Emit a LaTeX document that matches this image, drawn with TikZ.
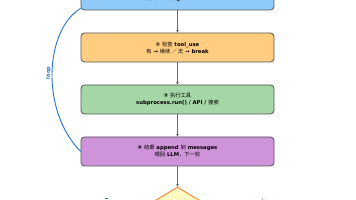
\documentclass[tikz,border=0pt]{standalone}
\usepackage{fontspec}
\setmainfont{DejaVu Sans}
\newfontfamily\cjk{Noto Sans CJK SC}
\usetikzlibrary{arrows.meta,shapes.geometric}
\definecolor{bxblue}{HTML}{90CAF9}
\definecolor{bxorange}{HTML}{FFCC80}
\definecolor{bxgreen}{HTML}{A5D6A7}
\definecolor{bxpurple}{HTML}{CE93D8}
\definecolor{loopblue}{HTML}{1E74D0}
\definecolor{edgegray}{HTML}{555555}
\definecolor{diafill}{HTML}{FFF9C4}
\definecolor{diaedge}{HTML}{F5862A}
\definecolor{endpink}{HTML}{E89AB8}
\newcommand{\zh}[1]{{\cjk\mdseries #1}}
\tikzset{
  stepbox/.style={draw=edgegray, line width=0.8pt, rounded corners=3.5pt,
    minimum width=193pt, minimum height=29pt, inner sep=0pt,
    align=center, font=\fontsize{5.3pt}{7pt}\selectfont\bfseries},
  flow/.style={draw=edgegray!90, line width=1.1pt, -{Stealth[length=2.6pt,width=2.8pt]}},
  loopline/.style={draw=loopblue, line width=0.9pt}
}
\begin{document}
\begin{tikzpicture}[x=1pt,y=-1pt]
\useasboundingbox (0,0) rectangle (356,200);
\clip (0,0) rectangle (356,200);
\fill[white] (0,0) rectangle (356,200);
\node[stepbox, fill=bxblue] (s1) at (177.5,-4.5) {① \zh{调用} LLM\\\zh{传入} messages + tools};
\node[stepbox, fill=bxorange] (s2) at (177.5,47.5) {② \zh{检查} tool\_use\\\zh{有} → \zh{继续 ／ 无} → break};
\node[stepbox, fill=bxgreen] (s3) at (177.5,99.5) {③ \zh{执行工具}\\subprocess.run() / API / \zh{搜索}};
\node[stepbox, fill=bxpurple] (s4) at (177.5,151.5) {④ \zh{结果} append \zh{到} messages\\\zh{喂回} LLM\zh{，下一轮}};
\node[diamond, draw=diaedge, fill=diafill, line width=0.9pt, aspect=1.6,
  minimum width=76pt, minimum height=46pt, inner sep=0pt] (d) at (177.5,210) {};
\draw[flow] (s1.south) -- (s2.north);
\draw[flow] (s2.south) -- (s3.north);
\draw[flow] (s3.south) -- (s4.north);
\draw[flow] (s4.south) -- (d.north);
\draw[loopline] (s4.west) .. controls (40,110) and (45,30) .. ([yshift=2pt]s1.south west);
\node[rotate=90, text=loopblue, font=\fontsize{5pt}{6pt}\selectfont\bfseries] (lp) at (48.5,73) {loop};
\coordinate (bl) at (105,198.5);
\coordinate (br) at (262,198.5);
\draw[loopblue, line width=0.8pt] (bl) -- ++(3,0);
\draw[endpink, line width=0.8pt] (br) -- ++(0,3);
\end{tikzpicture}
\end{document}
